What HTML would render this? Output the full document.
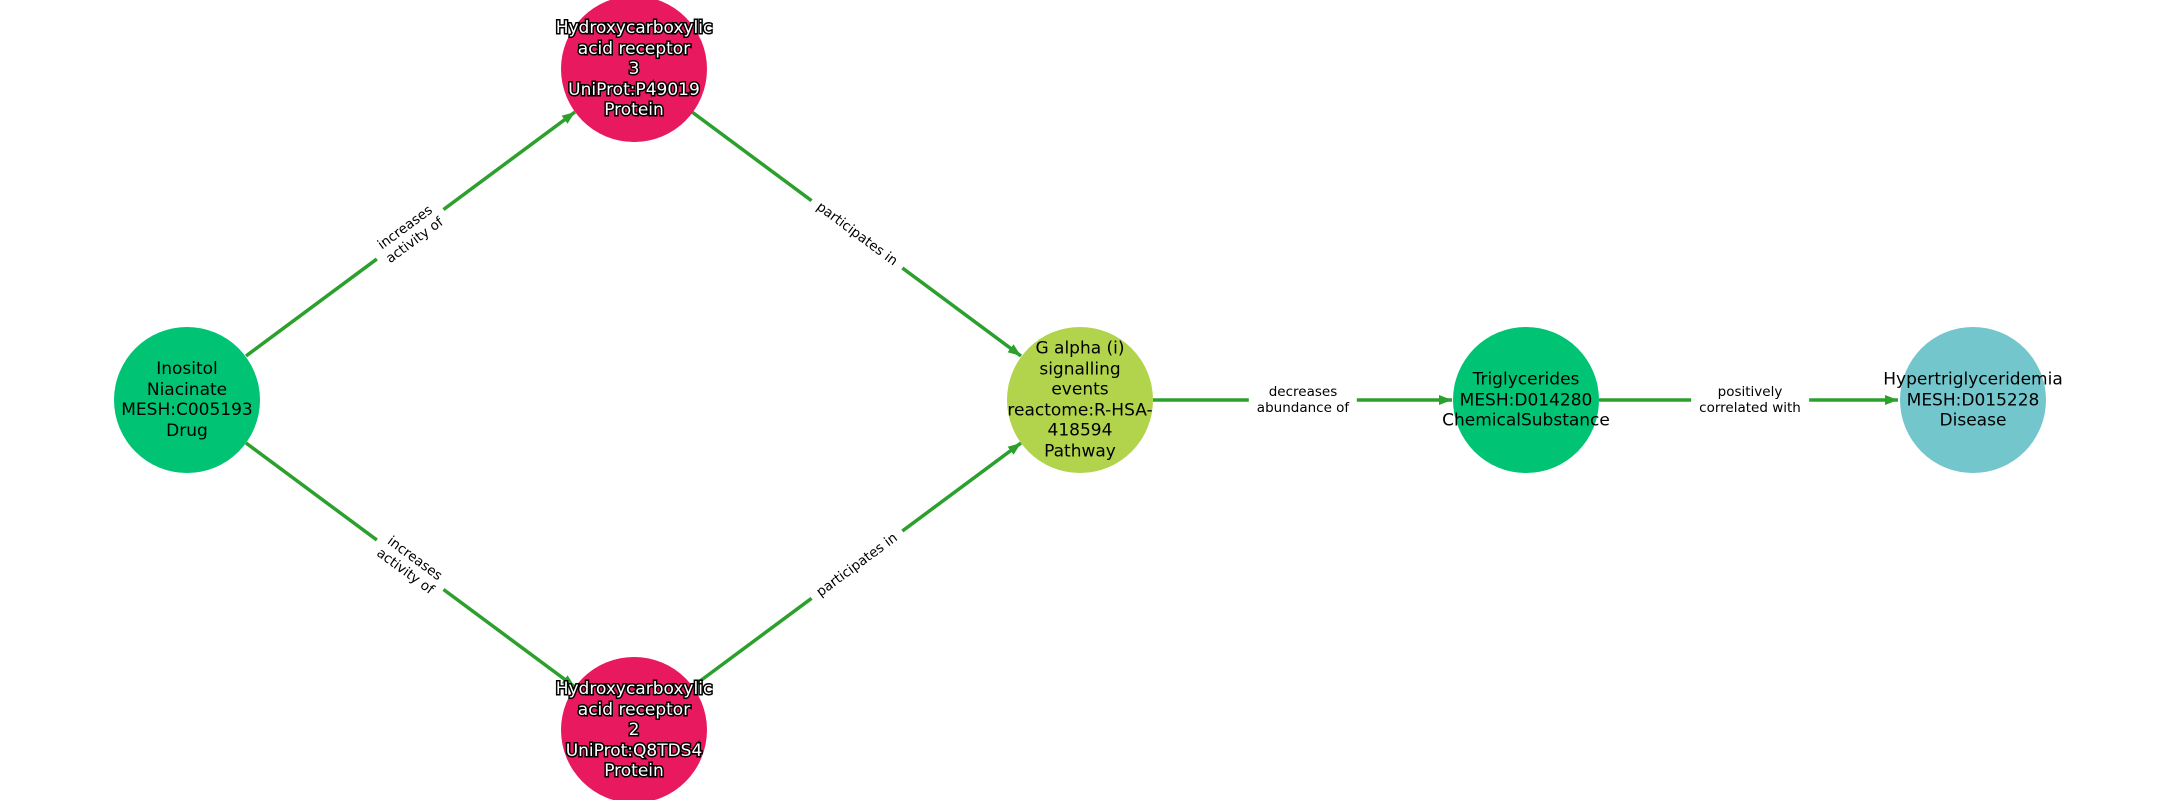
<!DOCTYPE html>
<html><head><meta charset="utf-8"><style>
html,body{margin:0;padding:0;background:#fff}
#c{position:relative;width:2160px;height:800px;overflow:hidden;font-family:"DejaVu Sans","Liberation Sans",sans-serif}
.n{position:absolute;width:146px;height:146px;border-radius:50%;}
.t{position:absolute;transform:translate(-50%,-50%);text-align:center;font-size:17px;line-height:20.5px;color:#000;white-space:nowrap}
.o{color:#fff;-webkit-text-stroke:3px #000;paint-order:stroke fill}
.l{position:absolute;font-size:13.5px;line-height:16px;text-align:center;background:#fff;padding:2px 8px;white-space:nowrap;color:#000}
</style></head><body><div id="c">
<svg width="2160" height="800" style="position:absolute;left:0;top:0">
<defs><marker id="a" markerUnits="userSpaceOnUse" markerWidth="14" markerHeight="12" refX="13" refY="5" orient="auto"><path d="M0,0 L13,5 L0,10 z" fill="#2ca02c"/></marker></defs>
<g stroke="#2ca02c" stroke-width="3.5" fill="none">
<line x1="246" y1="356" x2="575" y2="112" marker-end="url(#a)"/>
<line x1="246" y1="443" x2="575" y2="687" marker-end="url(#a)"/>
<line x1="692" y1="112" x2="1021" y2="356" marker-end="url(#a)"/>
<line x1="692" y1="687" x2="1021" y2="443" marker-end="url(#a)"/>
<line x1="1153" y1="400" x2="1452" y2="400" marker-end="url(#a)"/>
<line x1="1599" y1="400" x2="1898" y2="400" marker-end="url(#a)"/>
</g></svg>
<div class="n" style="left:114px;top:327px;background:#00c374"></div>
<div class="n" style="left:561px;top:-4px;background:#e8195f"></div>
<div class="n" style="left:561px;top:657px;background:#e8195f"></div>
<div class="n" style="left:1007px;top:327px;background:#b2d34c"></div>
<div class="n" style="left:1453px;top:327px;background:#00c374"></div>
<div class="n" style="left:1900px;top:327px;background:#72c6cc"></div>

<div class="l" style="left:410px;top:234px;transform:translate(-50%,-50%) rotate(-36.4deg)">increases<br>activity of</div>
<div class="l" style="left:410px;top:565px;transform:translate(-50%,-50%) rotate(36.4deg)">increases<br>activity of</div>
<div class="l" style="left:857px;top:234px;transform:translate(-50%,-50%) rotate(36.5deg)">participates in</div>
<div class="l" style="left:857px;top:565px;transform:translate(-50%,-50%) rotate(-36.5deg)">participates in</div>
<div class="l" style="left:1303px;top:400px;transform:translate(-50%,-50%)">decreases<br>abundance of</div>
<div class="l" style="left:1750px;top:400px;transform:translate(-50%,-50%)">positively<br>correlated with</div>

<div class="t" style="left:187px;top:400px">Inositol<br>Niacinate<br>MESH:C005193<br>Drug</div>
<div class="t o" style="left:634px;top:69px">Hydroxycarboxylic<br>acid receptor<br>3<br>UniProt:P49019<br>Protein</div>
<div class="t o" style="left:634px;top:730px">Hydroxycarboxylic<br>acid receptor<br>2<br>UniProt:Q8TDS4<br>Protein</div>
<div class="t" style="left:1080px;top:400px">G alpha (i)<br>signalling<br>events<br>reactome:R-HSA-<br>418594<br>Pathway</div>
<div class="t" style="left:1526px;top:400px">Triglycerides<br>MESH:D014280<br>ChemicalSubstance</div>
<div class="t" style="left:1973px;top:400px">Hypertriglyceridemia<br>MESH:D015228<br>Disease</div>
</div></body></html>
